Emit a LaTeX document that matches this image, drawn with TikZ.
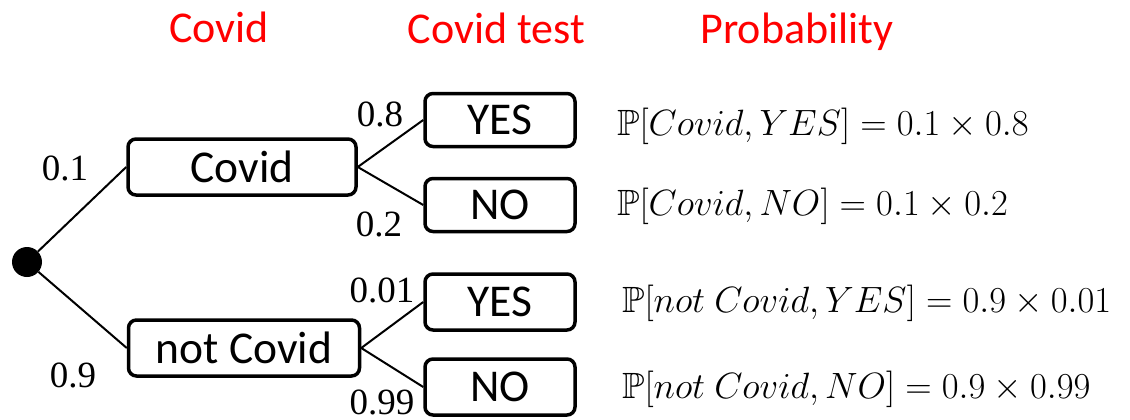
\documentclass[tikz,border=0pt]{standalone}
\usepackage{amssymb}
\usepackage{graphicx}
\usepackage{fontspec}
\setmainfont{Liberation Serif}
\newfontfamily\calib{Carlito}
\newcommand{\fml}[1]{\scalebox{1.47}{\fontsize{24.88}{28}\selectfont$#1$}}
\begin{document}
\begin{tikzpicture}[x=1pt,y=-1pt,
  box/.style={draw, line width=3.5pt, rounded corners=8pt, inner sep=0pt,
    font=\calib\fontsize{45.5}{48}\selectfont},
  head/.style={font=\calib\fontsize{44}{48}\selectfont, text=red, anchor=base, inner sep=0pt},
  prob/.style={font=\fontsize{37}{40}\selectfont, inner sep=0pt},
  link/.style={line width=2pt},
  formula/.style={anchor=base west, inner sep=0pt}]
\useasboundingbox (0,0) rectangle (1130,420);
% headings
\node[head] (h1) at (219,43) {Covid};
\node[head] (h2) at (496.5,44) {Covid test};
\node[head] (h3) at (797,44) {Probability};
% tree nodes
\node[circle, fill=black, minimum size=30pt, inner sep=0pt] (root) at (27,262) {};
\node[box, minimum width=228pt, minimum height=56pt] (covid) at (242,167) {Covid};
\node[box, minimum width=231pt, minimum height=56pt] (notcovid) at (244,348) {not Covid};
\node[box, minimum width=150pt, minimum height=53pt] (yes1) at (500,120) {YES};
\node[box, minimum width=150pt, minimum height=53pt] (no1) at (500,205) {NO};
\node[box, minimum width=150pt, minimum height=56pt] (yes2) at (500,302) {YES};
\node[box, minimum width=150pt, minimum height=56pt] (no2) at (500,387) {NO};
% connectors
\draw[link] (root) -- (covid.west);
\draw[link] (root) -- (notcovid.west);
\draw[link] (covid.east) -- (yes1.west);
\draw[link] (covid.east) -- (no1.west);
\draw[link] (notcovid.east) -- (yes2.west);
\draw[link] (notcovid.east) -- (no2.west);
% probabilities on branches
\node[prob] (p1) at (65,168) {0.1};
\node[prob] (p2) at (73,375) {0.9};
\node[prob] (p3) at (380,114) {0.8};
\node[prob] (p4) at (379,224) {0.2};
\node[prob] (p5) at (382,290) {0.01};
\node[prob] (p6) at (382,402) {0.99};
% formulas
\node[formula] (f1) at (617,135) {\fml{\mathbb{P}[Covid, YES] = 0.1 \times 0.8}};
\node[formula] (f2) at (617,215) {\fml{\mathbb{P}[Covid, NO] = 0.1 \times 0.2}};
\node[formula] (f3) at (622,312) {\fml{\mathbb{P}[not\ Covid, YES] = 0.9 \times 0.01}};
\node[formula] (f4) at (622,398) {\fml{\mathbb{P}[not\ Covid, NO] = 0.9 \times 0.99}};
\end{tikzpicture}
\end{document}
